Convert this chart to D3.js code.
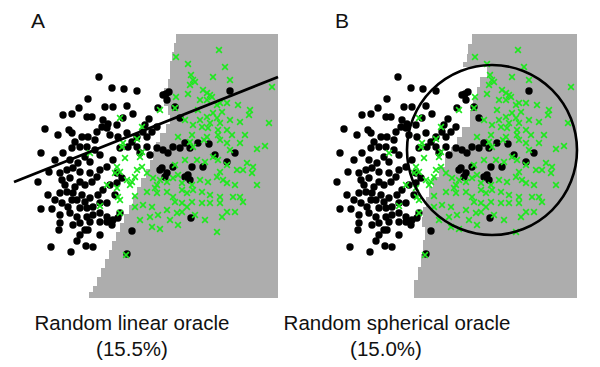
<!DOCTYPE html>
<html><head><meta charset="utf-8">
<script src="https://cdn.jsdelivr.net/npm/d3@7"></script>
<style>body{margin:0;background:#fff}</style>
</head><body>
<svg id="chart" width="600" height="367"></svg>
<script>
// ---- data (feature space) ----
const classDots = [[99,77],[112,88],[124,89],[137,91],[88,99],[79,108],[105,107],[113,107],[127,106],[63,115],[72,114],[87,117],[92,117],[103,120],[117,125],[108,124],[133,114],[149,119],[158,108],[166,94],[169,92],[163,95],[167,100],[175,107],[180,118],[230,91],[45,129],[58,135],[69,130],[72,133],[82,137],[88,137],[97,132],[102,127],[107,128],[110,135],[118,137],[127,133],[132,142],[137,137],[143,132],[147,137],[152,132],[157,127],[41,153],[63,153],[72,148],[80,147],[87,147],[95,150],[100,155],[85,157],[78,163],[80,172],[73,168],[67,170],[49,172],[60,173],[62,180],[38,182],[107,167],[113,160],[120,148],[128,147],[137,147],[140,153],[147,147],[150,155],[157,148],[163,150],[168,153],[173,147],[180,148],[185,143],[190,148],[198,143],[209,144],[215,155],[227,162],[235,153],[203,167],[192,167],[188,175],[190,180],[185,177],[162,168],[167,173],[173,167],[117,173],[122,178],[117,183],[110,185],[97,177],[90,173],[92,182],[85,185],[80,182],[75,187],[67,192],[60,193],[73,193],[82,195],[72,200],[77,200],[85,202],[90,198],[98,195],[103,190],[62,203],[68,207],[80,208],[87,208],[93,207],[100,203],[107,203],[41,209],[52,209],[60,215],[70,213],[77,217],[87,217],[93,215],[100,213],[107,217],[113,220],[118,218],[120,213],[60,223],[73,225],[80,223],[85,230],[90,222],[100,222],[107,222],[112,225],[59,230],[88,230],[132,231],[191,218],[51,247],[71,252],[77,241],[86,246],[93,247],[127,254],[160,170],[165,177],[70,160],[90,162],[65,185],[70,178],[100,170],[55,160],[48,195],[95,140],[75,142],[115,195],[55,200],[100,235],[80,235],[123,118],[145,125]];
const classCrosses = [[219,50],[176,57],[188,64],[225,67],[191,75],[193,80],[213,77],[230,80],[190,85],[195,82],[203,90],[207,93],[210,95],[188,94],[176,97],[200,100],[207,100],[212,97],[220,103],[227,103],[217,105],[238,105],[175,108],[160,110],[250,110],[249,115],[272,87],[269,123],[213,113],[217,118],[207,117],[200,120],[210,123],[220,123],[230,120],[240,122],[193,125],[202,127],[208,128],[218,130],[227,130],[218,135],[120,118],[142,127],[178,137],[192,135],[207,137],[204,140],[220,140],[190,142],[227,143],[240,143],[193,147],[230,150],[265,146],[257,149],[137,139],[123,143],[122,147],[125,158],[142,152],[140,157],[90,153],[137,170],[142,167],[147,173],[135,177],[127,180],[132,182],[130,185],[117,167],[115,173],[120,172],[153,178],[157,185],[160,180],[167,182],[173,178],[178,175],[182,183],[192,185],[200,180],[208,182],[217,177],[220,172],[223,180],[227,183],[237,170],[243,170],[247,163],[253,167],[252,173],[257,185],[227,165],[218,160],[213,157],[205,162],[197,160],[107,185],[117,188],[118,197],[135,196],[147,192],[155,188],[157,193],[167,192],[173,197],[182,190],[187,193],[193,190],[202,192],[210,195],[220,197],[233,197],[240,197],[243,202],[120,200],[100,206],[120,213],[135,207],[143,205],[152,207],[167,210],[175,202],[182,203],[187,207],[192,202],[202,203],[210,203],[220,203],[227,212],[235,212],[222,217],[150,217],[158,215],[177,213],[182,212],[152,227],[160,229],[178,225],[217,232],[126,255],[198,110],[222,112],[185,120],[232,135],[245,135],[185,160],[175,165],[235,185],[195,215],[205,220],[170,220],[140,220]];
const regionExtent = {top: 34, bottom: 298, right: 278};
// rows of the shaded decision region: [row start (x2), left edge (x1)]
const linearRegionRows = [[34,176],[43,174],[52,172],[61,170],[70,170],[79,168],[88,164],[97,164],[106,168],[115,170],[124,166],[133,160],[142,156],[151,153],[160,150],[169,146],[178,141],[187,137],[196,133],[205,129],[214,124],[223,120],[232,116],[241,112],[250,109],[259,105],[268,101],[277,97],[286,93],[292,89]];
const sphericalRegionRows = [[34,173],[44,169],[54,168],[62,164],[67,188],[77,181],[87,178],[97,174],[110,171],[127,163],[137,158],[147,152],[157,146],[167,140],[177,134],[187,130],[197,127],[207,124],[217,123],[227,126],[240,124],[254,122],[267,119],[280,115]];
const linearOracle = [[14,182],[278,77]];
const sphericalOracle = [{cx: 193, cy: 150, r: 85}];
const panelLabels = ["A", "B"];
const oracleTitles = ["Random linear oracle", "Random spherical oracle"];
const oracleErrors = ["(15.5%)", "(15.0%)"];

// ---- drawing ----
const svg = d3.select("#chart");
const font = "'Liberation Sans', Arial, Helvetica, sans-serif";
const panels = [
  {off: 0, rows: linearRegionRows, labelX: 31, titleX: 132, errX: 132},
  {off: 299, rows: sphericalRegionRows, labelX: 36, titleX: 98, errX: 87}
];

panels.forEach((p, i) => {
  const x = d3.scaleLinear().domain([0, 300]).range([p.off, p.off + 300]);
  const y = d3.scaleLinear().domain([0, 300]).range([0, 300]);
  const g = svg.append("g");

  // staircase region
  const pts = [];
  p.rows.forEach((r, k) => {
    const yEnd = k < p.rows.length - 1 ? p.rows[k + 1][0] : regionExtent.bottom;
    pts.push([r[1], r[0]], [r[1], yEnd]);
  });
  pts.push([regionExtent.right, regionExtent.bottom], [regionExtent.right, regionExtent.top]);
  g.append("path")
    .attr("d", d3.line().x(d => x(d[0])).y(d => y(d[1])).curve(d3.curveLinearClosed)(pts))
    .attr("fill", "#adadad");

  // black dots
  g.selectAll("circle.dot").data(classDots).join("circle")
    .attr("class", "dot")
    .attr("cx", d => x(d[0])).attr("cy", d => y(d[1])).attr("r", 3.7)
    .attr("fill", "#000");

  // green crosses
  const s = 2.9;
  g.selectAll("path.cross").data(classCrosses).join("path")
    .attr("class", "cross")
    .attr("d", d => {
      const cx = x(d[0]), cy = y(d[1]);
      return `M${cx - s},${cy - s}L${cx + s},${cy + s}M${cx - s},${cy + s}L${cx + s},${cy - s}`;
    })
    .attr("stroke", "#1fe81f").attr("stroke-width", 1.6).attr("fill", "none");

  // oracle
  if (i === 0) {
    g.append("path")
      .attr("d", d3.line().x(d => x(d[0])).y(d => y(d[1]))(linearOracle))
      .attr("stroke", "#000").attr("stroke-width", 2.8).attr("fill", "none");
  } else {
    g.selectAll("circle.oracle").data(sphericalOracle).join("circle")
      .attr("class", "oracle")
      .attr("cx", d => x(d.cx)).attr("cy", d => y(d.cy))
      .attr("r", d => x(d.cx + d.r) - x(d.cx))
      .attr("stroke", "#000").attr("stroke-width", 2.6).attr("fill", "none");
  }

  // texts
  g.append("text").attr("x", p.off + p.labelX).attr("y", 28)
    .attr("font-family", font).attr("font-size", 21).attr("fill", "#111")
    .text(panelLabels[i]);
  g.append("text").attr("x", p.off + p.titleX).attr("y", 330)
    .attr("text-anchor", "middle")
    .attr("font-family", font).attr("font-size", 20.5).attr("fill", "#111")
    .text(oracleTitles[i]);
  g.append("text").attr("x", p.off + p.errX).attr("y", 356)
    .attr("text-anchor", "middle")
    .attr("font-family", font).attr("font-size", 20.5).attr("fill", "#111")
    .text(oracleErrors[i]);
});
</script>
</body></html>
